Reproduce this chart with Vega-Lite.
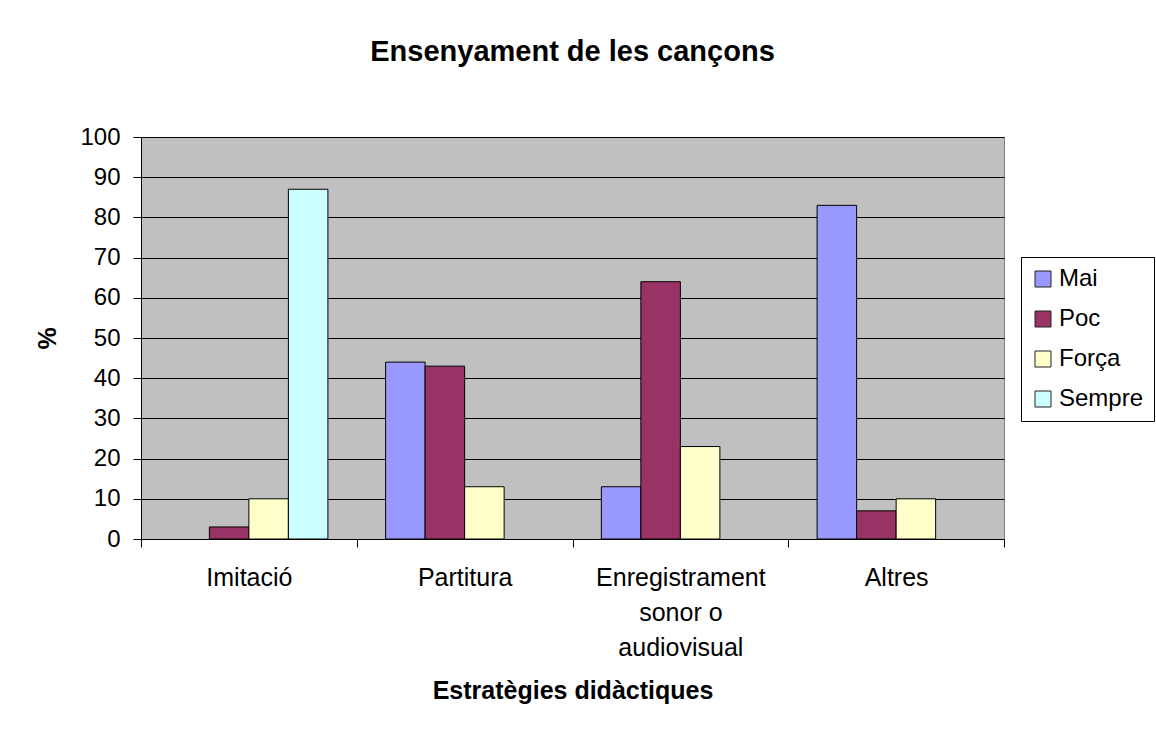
{
  "$schema": "https://vega.github.io/schema/vega-lite/v6.json",
  "autosize": {"type": "none"},
  "padding": {"left": 141, "top": 137, "right": 152, "bottom": 192},
  "width": 863,
  "height": 402,
  "background": "white",
  "title": {"text": "Ensenyament de les cançons", "fontSize": 29, "font": "Liberation Sans", "fontWeight": "bold", "color": "black", "anchor": "middle", "offset": 58},
  "data": {"values": [
    {"cat": "Imitació", "serie": "Mai", "v": 0},
    {"cat": "Imitació", "serie": "Poc", "v": 3},
    {"cat": "Imitació", "serie": "Força", "v": 10},
    {"cat": "Imitació", "serie": "Sempre", "v": 87},
    {"cat": "Partitura", "serie": "Mai", "v": 44},
    {"cat": "Partitura", "serie": "Poc", "v": 43},
    {"cat": "Partitura", "serie": "Força", "v": 13},
    {"cat": "Partitura", "serie": "Sempre", "v": 0},
    {"cat": "Enregistrament sonor o audiovisual", "serie": "Mai", "v": 13},
    {"cat": "Enregistrament sonor o audiovisual", "serie": "Poc", "v": 64},
    {"cat": "Enregistrament sonor o audiovisual", "serie": "Força", "v": 23},
    {"cat": "Enregistrament sonor o audiovisual", "serie": "Sempre", "v": 0},
    {"cat": "Altres", "serie": "Mai", "v": 83},
    {"cat": "Altres", "serie": "Poc", "v": 7},
    {"cat": "Altres", "serie": "Força", "v": 10},
    {"cat": "Altres", "serie": "Sempre", "v": 0}
  ]},
  "transform": [{"filter": "datum.v > 0"}],
  "mark": {"type": "bar", "stroke": "black", "strokeWidth": 1},
  "encoding": {
    "x": {
      "field": "cat", "type": "nominal",
      "sort": ["Imitació", "Partitura", "Enregistrament sonor o audiovisual", "Altres"],
      "scale": {"paddingInner": 0, "paddingOuter": 0},
      "title": "Estratègies didàctiques",
      "axis": {
        "labelAngle": 0,
        "labelExpr": "datum.value == 'Enregistrament sonor o audiovisual' ? ['Enregistrament', 'sonor o', 'audiovisual'] : datum.value",
        "labelFont": "Liberation Sans", "labelFontSize": 25, "labelColor": "black",
        "labelLineHeight": 35, "labelPadding": 18,
        "tickBand": "extent", "tickSize": 8, "tickColor": "black", "domainColor": "black",
        "titleFont": "Liberation Sans", "titleFontSize": 25, "titleFontWeight": "bold", "titleColor": "black",
        "titlePadding": 18
      }
    },
    "xOffset": {
      "field": "serie", "type": "nominal",
      "sort": ["Mai", "Poc", "Força", "Sempre"],
      "scale": {"domain": ["Mai", "Poc", "Força", "Sempre"], "paddingInner": 0, "paddingOuter": 0.73}
    },
    "y": {
      "field": "v", "type": "quantitative",
      "scale": {"domain": [0, 100], "nice": false},
      "title": "%",
      "axis": {
        "values": [0, 10, 20, 30, 40, 50, 60, 70, 80, 90, 100],
        "labelFont": "Liberation Sans", "labelFontSize": 24, "labelColor": "black",
        "labelPadding": 13, "tickSize": 8, "tickColor": "black", "domainColor": "black",
        "grid": true, "gridColor": "black", "gridOpacity": 1, "gridWidth": 1,
        "titleFont": "Liberation Sans", "titleFontSize": 25, "titleFontWeight": "bold", "titleColor": "black",
        "titlePadding": 19
      }
    },
    "color": {
      "field": "serie", "type": "nominal",
      "scale": {"domain": ["Mai", "Poc", "Força", "Sempre"], "range": ["#9999FF", "#993366", "#FFFFCC", "#CCFFFF"]},
      "legend": {
        "title": null, "orient": "none", "legendX": 880, "legendY": 120,
        "symbolType": "square", "symbolSize": 256, "symbolStrokeColor": "#222", "symbolStrokeWidth": 1,
        "labelFont": "Liberation Sans", "labelFontSize": 24, "labelColor": "black", "labelOffset": 4,
        "rowPadding": 16, "padding": 10,
        "strokeColor": "black", "fillColor": "white"
      }
    }
  },
  "config": {
    "view": {"fill": "#C0C0C0", "stroke": "#808080"},
    "font": "Liberation Sans"
  }
}
